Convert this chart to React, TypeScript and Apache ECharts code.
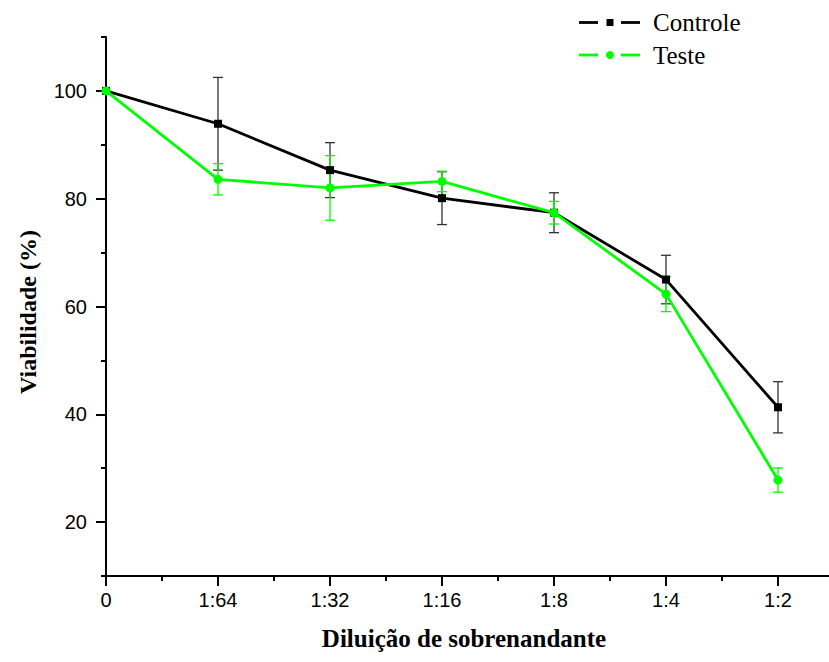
import React, { useEffect, useRef } from 'react';
import * as echarts from 'echarts';

// Dilution steps on the x axis (index 0..6)
const categories = ['0', '1:64', '1:32', '1:16', '1:8', '1:4', '1:2'];

// Viability (%) mean and error for each dilution
const controleMean = [100, 93.9, 85.3, 80.1, 77.4, 65.0, 41.3];
const controleErr = [0, 8.6, 5.1, 4.9, 3.7, 4.5, 4.75];
const testeMean = [100, 83.6, 82.0, 83.2, 77.4, 62.3, 27.8];
const testeErr = [0, 2.9, 6.0, 1.9, 2.1, 3.25, 2.25];

// Labelled y ticks
const yTicks = [20, 40, 60, 80, 100];

const BLACK = '#000000';
const GREEN = '#00ff00';
const SANS = 'Liberation Sans';
const SERIF = 'Liberation Serif';

function errorSeries(name: string, mean: number[], err: number[], color: string) {
  const data = mean
    .map((m, i) => [i, m - err[i], m + err[i]])
    .filter((_, i) => err[i] > 0);
  return {
    type: 'custom',
    name,
    data,
    z: 1,
    encode: { x: 0, y: [1, 2] },
    renderItem: (_params: any, api: any) => {
      const x = api.value(0);
      const lo = api.coord([x, api.value(1)]);
      const hi = api.coord([x, api.value(2)]);
      const cap = 5;
      const style = { stroke: color, lineWidth: 1.3 };
      return {
        type: 'group',
        children: [
          { type: 'line', shape: { x1: lo[0], y1: lo[1], x2: hi[0], y2: hi[1] }, style },
          { type: 'line', shape: { x1: hi[0] - cap, y1: hi[1], x2: hi[0] + cap, y2: hi[1] }, style },
          { type: 'line', shape: { x1: lo[0] - cap, y1: lo[1], x2: lo[0] + cap, y2: lo[1] }, style },
        ],
      };
    },
  };
}

function legendRow(y: number, color: string, label: string, marker: 'square' | 'circle') {
  const lineStyle = { stroke: color, lineWidth: 2.8 };
  const mark =
    marker === 'square'
      ? { type: 'rect', shape: { x: 606.5, y: y - 3.5, width: 7, height: 7 }, style: { fill: color } }
      : { type: 'circle', shape: { cx: 610, cy: y, r: 4 }, style: { fill: color } };
  return [
    { type: 'line', shape: { x1: 579, y1: y, x2: 598, y2: y }, style: lineStyle },
    mark,
    { type: 'line', shape: { x1: 621, y1: y, x2: 640, y2: y }, style: lineStyle },
    {
      type: 'text',
      x: 653,
      y,
      style: {
        text: label,
        fill: '#000',
        fontFamily: SERIF,
        fontSize: 25,
        fontWeight: 'normal',
        textAlign: 'left',
        textVerticalAlign: 'middle',
      },
    },
  ];
}

export default function App() {
  const ref = useRef<HTMLDivElement>(null);

  useEffect(() => {
    const chart = echarts.init(ref.current!, null, { renderer: 'svg' });
    const axisLine = { show: true, lineStyle: { color: BLACK, width: 2 } };

    chart.setOption({
      animation: false,
      backgroundColor: '#ffffff',
      // the x axis runs on past the right edge of the frame
      grid: { left: 106, top: 37, bottom: 86, right: 0, containLabel: false },
      xAxis: [
        {
          type: 'value',
          position: 'bottom',
          min: 0,
          max: 7,
          interval: 1,
          axisLine,
          axisTick: { show: true, inside: false, length: 10, lineStyle: { color: BLACK, width: 2 } },
          axisLabel: {
            show: true,
            margin: 14,
            color: '#000',
            fontFamily: SANS,
            fontSize: 20,
            formatter: (v: number) => (Number.isInteger(v) && categories[v] !== undefined ? categories[v] : ''),
          },
          splitLine: { show: false },
        },
        {
          type: 'value',
          position: 'bottom',
          min: 0,
          max: 7,
          interval: 0.5,
          axisLine: { show: false },
          axisTick: { show: true, inside: false, length: 5, lineStyle: { color: BLACK, width: 2 } },
          axisLabel: { show: false },
          splitLine: { show: false },
        },
      ],
      yAxis: [
        {
          type: 'value',
          position: 'left',
          min: 10,
          max: 110,
          axisLine,
          axisTick: {
            show: true,
            inside: false,
            length: 10,
            customValues: yTicks,
            lineStyle: { color: BLACK, width: 2 },
          },
          axisLabel: {
            show: true,
            margin: 19,
            color: '#000',
            fontFamily: SANS,
            fontSize: 20,
            customValues: yTicks,
          },
          splitLine: { show: false },
        },
        {
          type: 'value',
          position: 'left',
          min: 10,
          max: 110,
          interval: 10,
          axisLine: { show: false },
          axisTick: { show: true, inside: false, length: 5, lineStyle: { color: BLACK, width: 2 } },
          axisLabel: { show: false },
          splitLine: { show: false },
        },
      ],
      series: [
        errorSeries('Controle erro', controleMean, controleErr, '#333333'),
        errorSeries('Teste erro', testeMean, testeErr, GREEN),
        {
          type: 'line',
          name: 'Controle',
          data: controleMean.map((v, i) => [i, v]),
          symbol: 'rect',
          symbolSize: 8,
          lineStyle: { color: BLACK, width: 2.8 },
          itemStyle: { color: BLACK },
          z: 3,
        },
        {
          type: 'line',
          name: 'Teste',
          data: testeMean.map((v, i) => [i, v]),
          symbol: 'circle',
          symbolSize: 9,
          lineStyle: { color: GREEN, width: 2.8 },
          itemStyle: { color: GREEN },
          z: 4,
        },
      ],
      graphic: [
        ...legendRow(22.5, BLACK, 'Controle', 'square'),
        ...legendRow(55, GREEN, 'Teste', 'circle'),
        {
          type: 'text',
          x: 28,
          y: 312,
          rotation: Math.PI / 2,
          style: {
            text: 'Viabilidade (%)',
            fill: '#000',
            fontFamily: SERIF,
            fontSize: 24,
            fontWeight: 'bold',
            textAlign: 'center',
            textVerticalAlign: 'middle',
          },
        },
        {
          type: 'text',
          x: 464,
          y: 638,
          style: {
            text: 'Diluição de sobrenandante',
            fill: '#000',
            fontFamily: SERIF,
            fontSize: 25,
            fontWeight: 'bold',
            textAlign: 'center',
            textVerticalAlign: 'middle',
          },
        },
      ],
    });

    return () => chart.dispose();
  }, []);

  return (
    <div
      style={{ position: 'fixed', left: 0, top: 0, width: 829, height: 662, overflow: 'hidden', background: '#fff' }}
    >
      <div ref={ref} style={{ width: 893, height: 662 }} />
    </div>
  );
}
